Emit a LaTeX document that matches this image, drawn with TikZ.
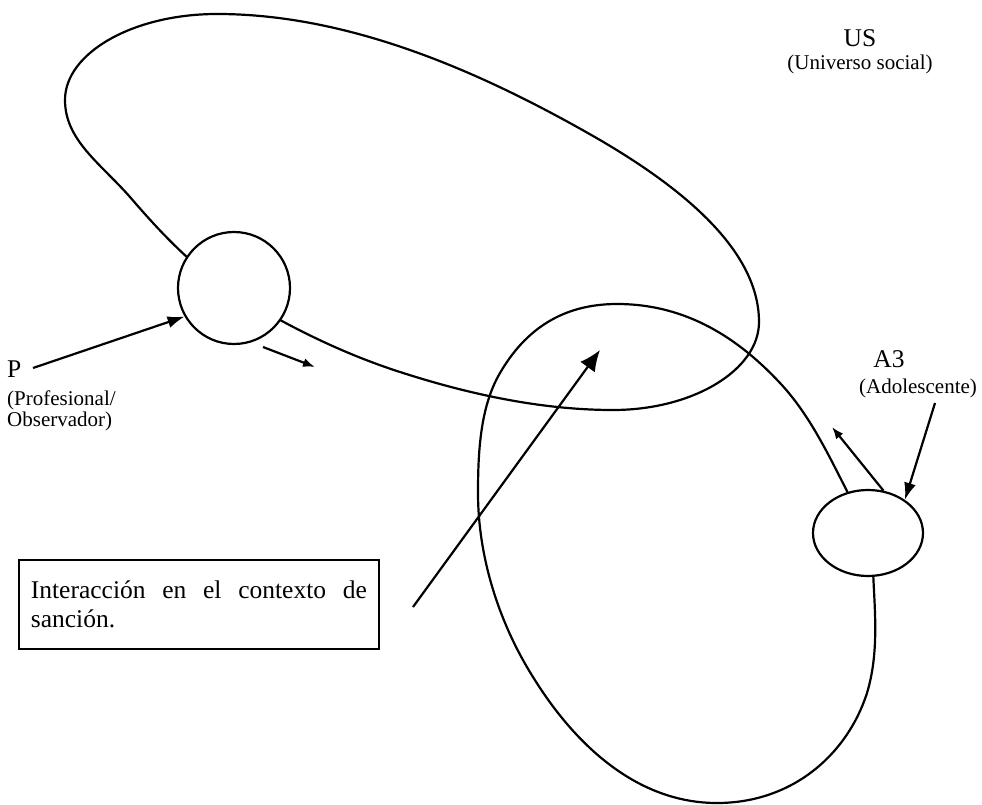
\documentclass[tikz,border=0pt]{standalone}
\usepackage{fontspec}
\setmainfont{Liberation Serif}
\usetikzlibrary{arrows.meta,shapes.geometric}
\begin{document}
\begin{tikzpicture}[x=1pt,y=-1pt,
  curve/.style={line width=2.2pt, line join=round},
  arr/.style={line width=2.2pt, -{Latex[length=17pt,width=12pt]}},
  smallarr/.style={line width=2.2pt, -{Latex[length=12pt,width=9pt]}},
  bigarr/.style={line width=2.2pt, -{Latex[length=21pt,width=18pt]}},
  big/.style={font=\fontsize{25.5}{29}\selectfont, inner sep=0pt},
  sub/.style={font=\fontsize{21}{22}\selectfont, inner sep=0pt},
  circ/.style={draw, line width=2.2pt, fill=white, inner sep=0pt}]
\useasboundingbox (0,0) rectangle (982,805);

% US loop
\draw[curve] (65,100)
  .. controls (65,53) and (133,14) .. (217,14)
  .. controls (351,14) and (484,73) .. (600,140)
  .. controls (682,188) and (759,250) .. (759,322)
  .. controls (759,370) and (693,410) .. (613,410)
  .. controls (541,410) and (468,394) .. (400,372)
  .. controls (341,353) and (285,325) .. (232,292)
  .. controls (194,268) and (160,232) .. (130,197)
  .. controls (100,163) and (65,140) .. (65,100) -- cycle;

% A3 loop
\draw[curve] (849,495)
  .. controls (829,456) and (810,415) .. (780,383)
  .. controls (739,339) and (687,304) .. (617,304)
  .. controls (562,304) and (525,330) .. (500,373)
  .. controls (480,407) and (478,453) .. (478,493)
  .. controls (478,557) and (499,623) .. (533,677)
  .. controls (575,745) and (637,803) .. (717,803)
  .. controls (792,803) and (847,755) .. (867,693)
  .. controls (880,650) and (874,605) .. (873,568);

% circles
\node[circ, circle, minimum size=112pt] (Pc) at (234,288) {};
\node[circ, ellipse, minimum width=110pt, minimum height=86pt] (Ac) at (868,533) {};

% labels
\node[big, anchor=base west] (P) at (7,377) {P};
\node[sub, anchor=base west] (Psub1) at (7,405) {(Profesional/};
\node[sub, anchor=base west] (Psub2) at (7,426) {Observador)};
\node[big, anchor=base] (US) at (860,47) {US};
\node[sub, anchor=base] (USsub) at (860,70) {(Universo social)};
\node[big, anchor=base] (A3) at (889,367) {A3};
\node[sub, anchor=base] (A3sub) at (918,393) {(Adolescente)};

% box
\node[draw, line width=1.8pt, big, text width=336pt, align=left,
      inner xsep=12pt, inner ysep=0pt, minimum height=89pt, anchor=north west]
      (box) at (18,559) {Interacción\hfill en\hfill el\hfill contexto\hfill de\\sanción.};

% arrow coordinates
\coordinate (p0) at (33,368);
\coordinate (s0) at (263,347);
\coordinate (s1) at (315,367);
\coordinate (b0) at (413,607);
\coordinate (b1) at (600,350);
\coordinate (a1) at (832,427);
\coordinate (a2) at (935,403);

% arrows
\draw[arr] (p0) -- (Pc.210);
\draw[smallarr] (s0) -- (s1);
\draw[bigarr] (b0) -- (b1);
\draw[smallarr] (Ac.70) -- (a1);
\draw[arr] (a2) -- (Ac.42);
\end{tikzpicture}
\end{document}
